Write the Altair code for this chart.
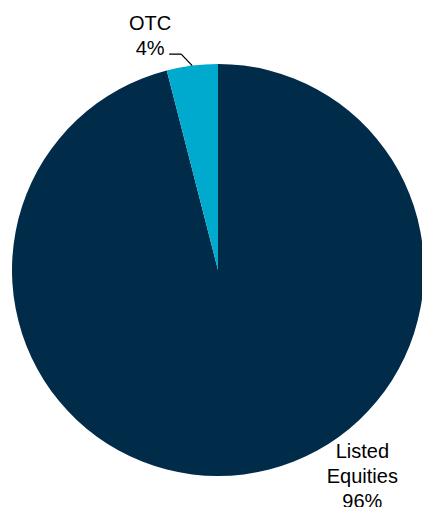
import altair as alt
import pandas as pd

categories = ["Listed Equities", "OTC"]
shares = [96, 4]
labels = ["Listed\nEquities\n96%", "OTC\n4%"]
colors = ["#002B49", "#00A9CE"]
order = [0, 1]

df = pd.DataFrame({"category": categories, "share": shares, "label": labels, "ord": order})

CX, CY, R = 218, 270, 206

base = alt.Chart(df)

color = alt.Color("category:N", scale=alt.Scale(domain=categories, range=colors), legend=None)

pie = base.mark_arc(outerRadius=R).encode(
    theta=alt.Theta("share:Q", stack=True),
    color=color,
    order=alt.Order("ord:Q"),
    x=alt.value(CX),
    y=alt.value(CY),
)

stacked = base.transform_stack(
    stack="share", groupby=[], as_=["s0", "s1"], sort=[alt.SortField("ord")]
).transform_calculate(midv="(datum.s0 + datum.s1)/2")

def label_layer(cat, radius, dx, dy):
    return stacked.mark_text(
        font="Liberation Sans", fontSize=20, lineBreak="\n", lineHeight=25,
        align="center", baseline="middle", radius=radius, dx=dx, dy=dy, color="#000000",
    ).encode(
        theta=alt.Theta("midv:Q"),
        text="label:N",
        x=alt.value(CX),
        y=alt.value(CY),
    ).transform_filter(alt.datum.category == cat)

lab_listed = label_layer("Listed Equities", 210, 118, -26)
lab_otc = label_layer("OTC", 230, -39, -18)

leader_base = stacked.transform_joinaggregate(total="sum(share)").transform_calculate(
    mid="datum.midv/datum.total*2*PI"
).transform_calculate(
    x0=f"{CX} + {R}*sin(datum.mid)",
    y0=f"{CY} - {R}*cos(datum.mid)",
).transform_calculate(
    xe="datum.x0 - 11", ye="datum.y0 - 11.5", xf="datum.x0 - 23"
).transform_filter(alt.datum.category == "OTC")

leader1 = leader_base.mark_rule(color="#000000", strokeWidth=1.3).encode(
    x=alt.X("x0:Q", scale=None), y=alt.Y("y0:Q", scale=None),
    x2="xe:Q", y2="ye:Q",
)
leader2 = leader_base.mark_rule(color="#000000", strokeWidth=1.3).encode(
    x=alt.X("xe:Q", scale=None), y=alt.Y("ye:Q", scale=None),
    x2="xf:Q", y2="ye:Q",
)

chart = alt.layer(pie, leader1, leader2, lab_listed, lab_otc).properties(
    width=422, height=507, autosize="none", padding=0
).configure_view(stroke=None)

chart.save("out.html", embed_options={"renderer": "svg", "actions": False})
